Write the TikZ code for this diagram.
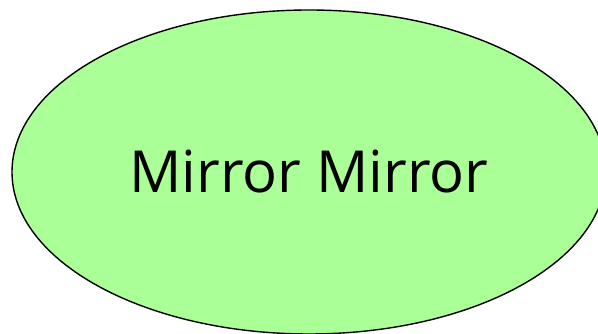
\documentclass[tikz,border=0pt]{standalone}
\usepackage{fontspec}
\setmainfont{Open Sans}
\usepackage{xcolor}
\usetikzlibrary{shapes.geometric}
\definecolor{mirrorgreen}{RGB}{170,255,150}

\begin{document}
\begin{tikzpicture}[
  x=1pt, y=1pt,
  blob/.style={ellipse, draw=black, line width=1.4pt, fill=mirrorgreen,
    minimum width=594pt, minimum height=324pt, inner sep=0pt,
    font=\fontsize{58}{66}\selectfont},
]
% ====== FRAME ======
\useasboundingbox (0, 0) rectangle (598, 334);
\clip (0, 0) rectangle (598, 334);
% ====== ELLIPSE ======
\node[blob] (mirror) at (309, 162) {Mirror Mirror};
\end{tikzpicture}
\end{document}
